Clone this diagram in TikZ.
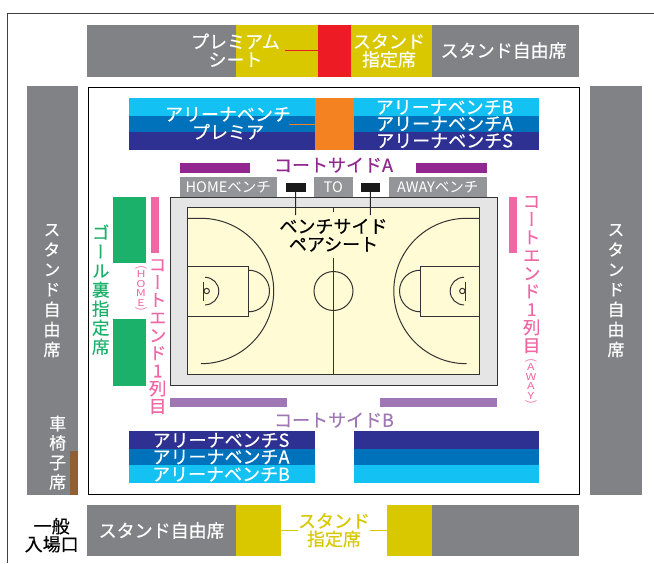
\documentclass[tikz,border=0pt]{standalone}
\usepackage{fontspec}
\setmainfont[RawFeature={embolden=0.35}]{Noto Sans CJK JP}
\newfontfamily\thin{Noto Sans CJK JP}
\newfontfamily\cjkv[RawFeature={+vert;embolden=0.35}]{Noto Sans CJK JP}
\newfontfamily\cjks[RawFeature={+vert},FakeStretch=1.3]{Noto Sans CJK JP}
\usetikzlibrary{calc}
\definecolor{gr}{HTML}{808285}
\definecolor{bn}{HTML}{939598}
\definecolor{yl}{HTML}{D9C800}
\definecolor{rd}{HTML}{ED1C24}
\definecolor{cy}{HTML}{13C1F3}
\definecolor{md}{HTML}{0071BB}
\definecolor{dk}{HTML}{2E3192}
\definecolor{og}{HTML}{F58220}
\definecolor{pu}{HTML}{92278F}
\definecolor{lp}{HTML}{A077B5}
\definecolor{gn}{HTML}{1BB16A}
\definecolor{pk}{HTML}{F067A6}
\definecolor{bw}{HTML}{8F5F38}
\definecolor{fl}{HTML}{FFFBD5}
\definecolor{cl}{HTML}{333333}
\newcommand\zs{\vrule height 0.88em depth 0.12em width 0pt\relax}
\newcommand\fsz[2]{\fontsize{#1}{#2}\selectfont\lineskiplimit=-50pt\relax}
\newcommand\blk[6]{\pgfmathsetmacro\blkw{#4-#2}\pgfmathsetmacro\blkh{#5-#3}%
  \node[blk,fill=#6,minimum width=\blkw pt,minimum height=\blkh pt] (#1) at ({(#2+#4)/2},{(#3+#5)/2}) {};}
\tikzset{
  blk/.style={rectangle,inner sep=0pt,outer sep=0pt,draw=none},
  lbl/.style={inner sep=0pt,outer sep=0pt,align=center,
    font=\fsz{18}{18},
    execute at begin node=\zs,execute at end node=\zs},
  bench/.style={lbl,white,font=\thin\fsz{14.5}{14}},
  vlbl/.style={inner sep=0pt,outer sep=0pt,align=center,
    execute at begin node=\zs,execute at end node=\zs},
  courtline/.style={draw=cl,line width=1pt},
  leader/.style={line width=1pt}
}
\begin{document}
\begin{tikzpicture}[x=1pt,y=-1pt]
\useasboundingbox (0,0) rectangle (654,563);
\fill[white] (0,0) rectangle (654,563);
% outer frame
\draw[draw=black!75,line width=1pt] (654,13) -- (7.5,13) -- (7.5,563);
% top band
\blk{tg1}{87}{24.5}{236}{76.5}{gr}
\blk{ty1}{236}{24.5}{318}{76.5}{yl}
\blk{tr}{318}{24.5}{350.5}{76.5}{rd}
\blk{ty2}{350.5}{24.5}{432}{76.5}{yl}
\blk{tg2}{432}{24.5}{579}{76.5}{gr}
% side columns
\blk{lc}{26.5}{85.5}{78}{495}{gr}
\blk{rc}{590}{85.5}{642}{495}{gr}
\blk{wc}{69.7}{451}{78}{495}{bw}
% arena frame
\node[blk,draw=black,line width=1pt,minimum width=491.5pt,minimum height=407.5pt] (frame) at (333.75,290.75) {};
% arena top
\blk{a1}{129}{98}{314.5}{115.5}{cy}
\blk{a2}{129}{115.5}{314.5}{132}{md}
\blk{a3}{129}{132}{314.5}{149.5}{dk}
\blk{ap}{314.5}{98}{354}{149.5}{og}
\blk{b1}{354}{98}{539}{115.5}{cy}
\blk{b2}{354}{115.5}{539}{132}{md}
\blk{b3}{354}{132}{539}{149.5}{dk}
% arena bottom
\blk{c1}{129}{431}{314.5}{449.3}{dk}
\blk{c2}{129}{449.3}{314.5}{465}{md}
\blk{c3}{129}{465}{314.5}{482.7}{cy}
\blk{d1}{354}{431}{539}{449.3}{dk}
\blk{d2}{354}{449.3}{539}{465}{md}
\blk{d3}{354}{465}{539}{482.7}{cy}
% court side bars
\blk{pa1}{179.5}{163}{250}{172.5}{pu}
\blk{pa2}{416}{163}{487}{172.5}{pu}
\blk{pb1}{170}{398.3}{286.7}{407.3}{lp}
\blk{pb2}{380}{398.3}{496.7}{407.3}{lp}
% benches
\blk{hb}{179.5}{176.5}{277}{198}{bn}
\blk{tb}{314}{176.5}{352.5}{198}{bn}
\blk{ab}{388.7}{176.5}{486.7}{198}{bn}
% court
\node[blk,draw=cl,line width=1pt,fill=black!10,minimum width=327pt,minimum height=187.7pt] (court) at (334.2,291.2) {};
\node[blk,draw=cl,line width=1pt,fill=fl,minimum width=291.6pt,minimum height=167.4pt] (floor) at (333.5,291) {};
\draw[courtline] (floor.north) -- ++(0,5);
\draw[courtline] (333.5,258) -- (floor.south);
\draw[courtline] (333.5,291) circle[radius=19.5];
% left half
\begin{scope}[courtline]
\draw (187.7,218.3) -- (201,218.3) arc[start angle=-90,end angle=90,radius=72.7];
\draw (187.7,266.3) rectangle (248.7,316);
\draw (248.7,270.2) arc[start angle=-90,end angle=90,radius=20.8];
\draw (205,277.3) arc[start angle=-90,end angle=90,radius=13.8];
\draw (203.3,281.7) -- (203.3,301);
\draw (206.7,291) circle[radius=2.7];
% right half
\draw (479.3,218.3) -- (466.5,218.3) arc[start angle=270,end angle=90,radius=72.7];
\draw (420.3,266.3) rectangle (479.3,316);
\draw (420.3,270.2) arc[start angle=270,end angle=90,radius=20.8];
\draw (464,277.3) arc[start angle=270,end angle=90,radius=13.8];
\draw (465,281.7) -- (465,301);
\draw (462.3,291) circle[radius=2.7];
\end{scope}
% green and pink
\blk{g1}{113}{196.7}{146}{262.7}{gn}
\blk{g2}{113}{319.3}{146}{385.7}{gn}
\blk{k1}{151.3}{196.7}{159}{252.7}{pk}
\blk{k2}{508.7}{196.7}{517}{252.7}{pk}
% pair seat boxes and leaders
\blk{s1}{286}{182.5}{305.5}{191.5}{black!90}
\blk{s2}{360.5}{182.5}{380}{191.5}{black!90}
\coordinate (s1e) at (295.7,215);
\coordinate (s2e) at (370.3,215);
\draw[leader,black!85] (s1) -- (s1e);
\draw[leader,black!85] (s2) -- (s2e);
% top labels
\node[lbl,white] (prem) at (235.5,51) {プレミアム\\シート};
\node[lbl,white] (std1) at (389,51) {スタンド\\指定席};
\node[lbl,white] (free1) at (503.7,50.5) {スタンド自由席};
\coordinate (premE) at (285,50.5);
\draw[leader,rd] (premE) -- (premE -| tr.west);
% arena labels
\node[lbl,white] (ap1) at (228,124) {アリーナベンチ\\プレミア};
\coordinate (apE) at (289,124);
\draw[leader,og] (apE) -- (apE -| ap.west);
\node[lbl,white] (bB) at (444.6,107) {アリーナベンチB};
\node[lbl,white] (bA) at (444.6,123.5) {アリーナベンチA};
\node[lbl,white] (bS) at (444.6,140.5) {アリーナベンチS};
\node[lbl,white] (cS) at (221,440) {アリーナベンチS};
\node[lbl,white] (cA) at (221,456.7) {アリーナベンチA};
\node[lbl,white] (cB) at (221,474) {アリーナベンチB};
% court side labels
\node[lbl,pu] (csa) at (333.5,165) {コートサイドA};
\node[lbl,lp] (csb) at (334,420) {コートサイドB};
\node[bench] (hbt) at (hb) {HOMEベンチ};
\node[bench] (tbt) at (tb) {TO};
\node[bench] (abt) at (ab) {AWAYベンチ};
\node[lbl,black] (pair) at (333.5,236) {ベンチサイド\\ペアシート};
% vertical labels
\node[vlbl,white,font=\cjkv\fsz{17}{20}] (vl) at (52,291) {ス\\タ\\ン\\ド\\自\\由\\席};
\node[vlbl,white,font=\cjkv\fsz{17}{20}] (vr) at (616,291) {ス\\タ\\ン\\ド\\自\\由\\席};
\node[vlbl,white,font=\cjkv\fsz{17}{19.5}] (wh) at (57.7,453) {車\\椅\\子\\席};
\node[vlbl,gn,font=\cjkv\fsz{17.5}{19}] (goal) at (100.7,290) {ゴ\\ー\\ル\\裏\\指\\定\\席};
\node[vlbl,pk,font=\cjkv\fsz{17.5}{17.7}] (ce1) at (157.7,337) {コ\\ー\\ト\\エ\\ン\\ド\\1\\列\\目};
\node[vlbl,pk,font=\cjkv\fsz{17.5}{18}] (ce2) at (531.7,275) {コ\\ー\\ト\\エ\\ン\\ド\\1\\列\\目};
\node[vlbl,pk,font=\cjks\fsz{9.5}{9.5}] (hm) at (141,291.5) {（\\H\\O\\M\\E\\）};
\node[vlbl,pk,font=\cjks\fsz{9.5}{9.5}] (aw) at (531,384.5) {（\\A\\W\\A\\Y\\）};
% bottom band
\blk{bg1}{87}{504.7}{236}{556}{gr}
\blk{by1}{236}{504.7}{281}{556}{yl}
\blk{by2}{387}{504.7}{432}{556}{yl}
\blk{bg2}{432}{504.7}{579}{556}{gr}
\node[lbl,white] (free2) at (161.7,530.5) {スタンド自由席};
\node[lbl,yl] (std2) at (334,530.5) {スタンド\\指定席};
\draw[leader,yl] (by1.east |- std2) -- (std2.west);
\draw[leader,yl] (std2.east) -- (by2.west |- std2);
\node[lbl,black] (gate) at (51.7,535.5) {一般\\入場口};
\end{tikzpicture}
\end{document}
